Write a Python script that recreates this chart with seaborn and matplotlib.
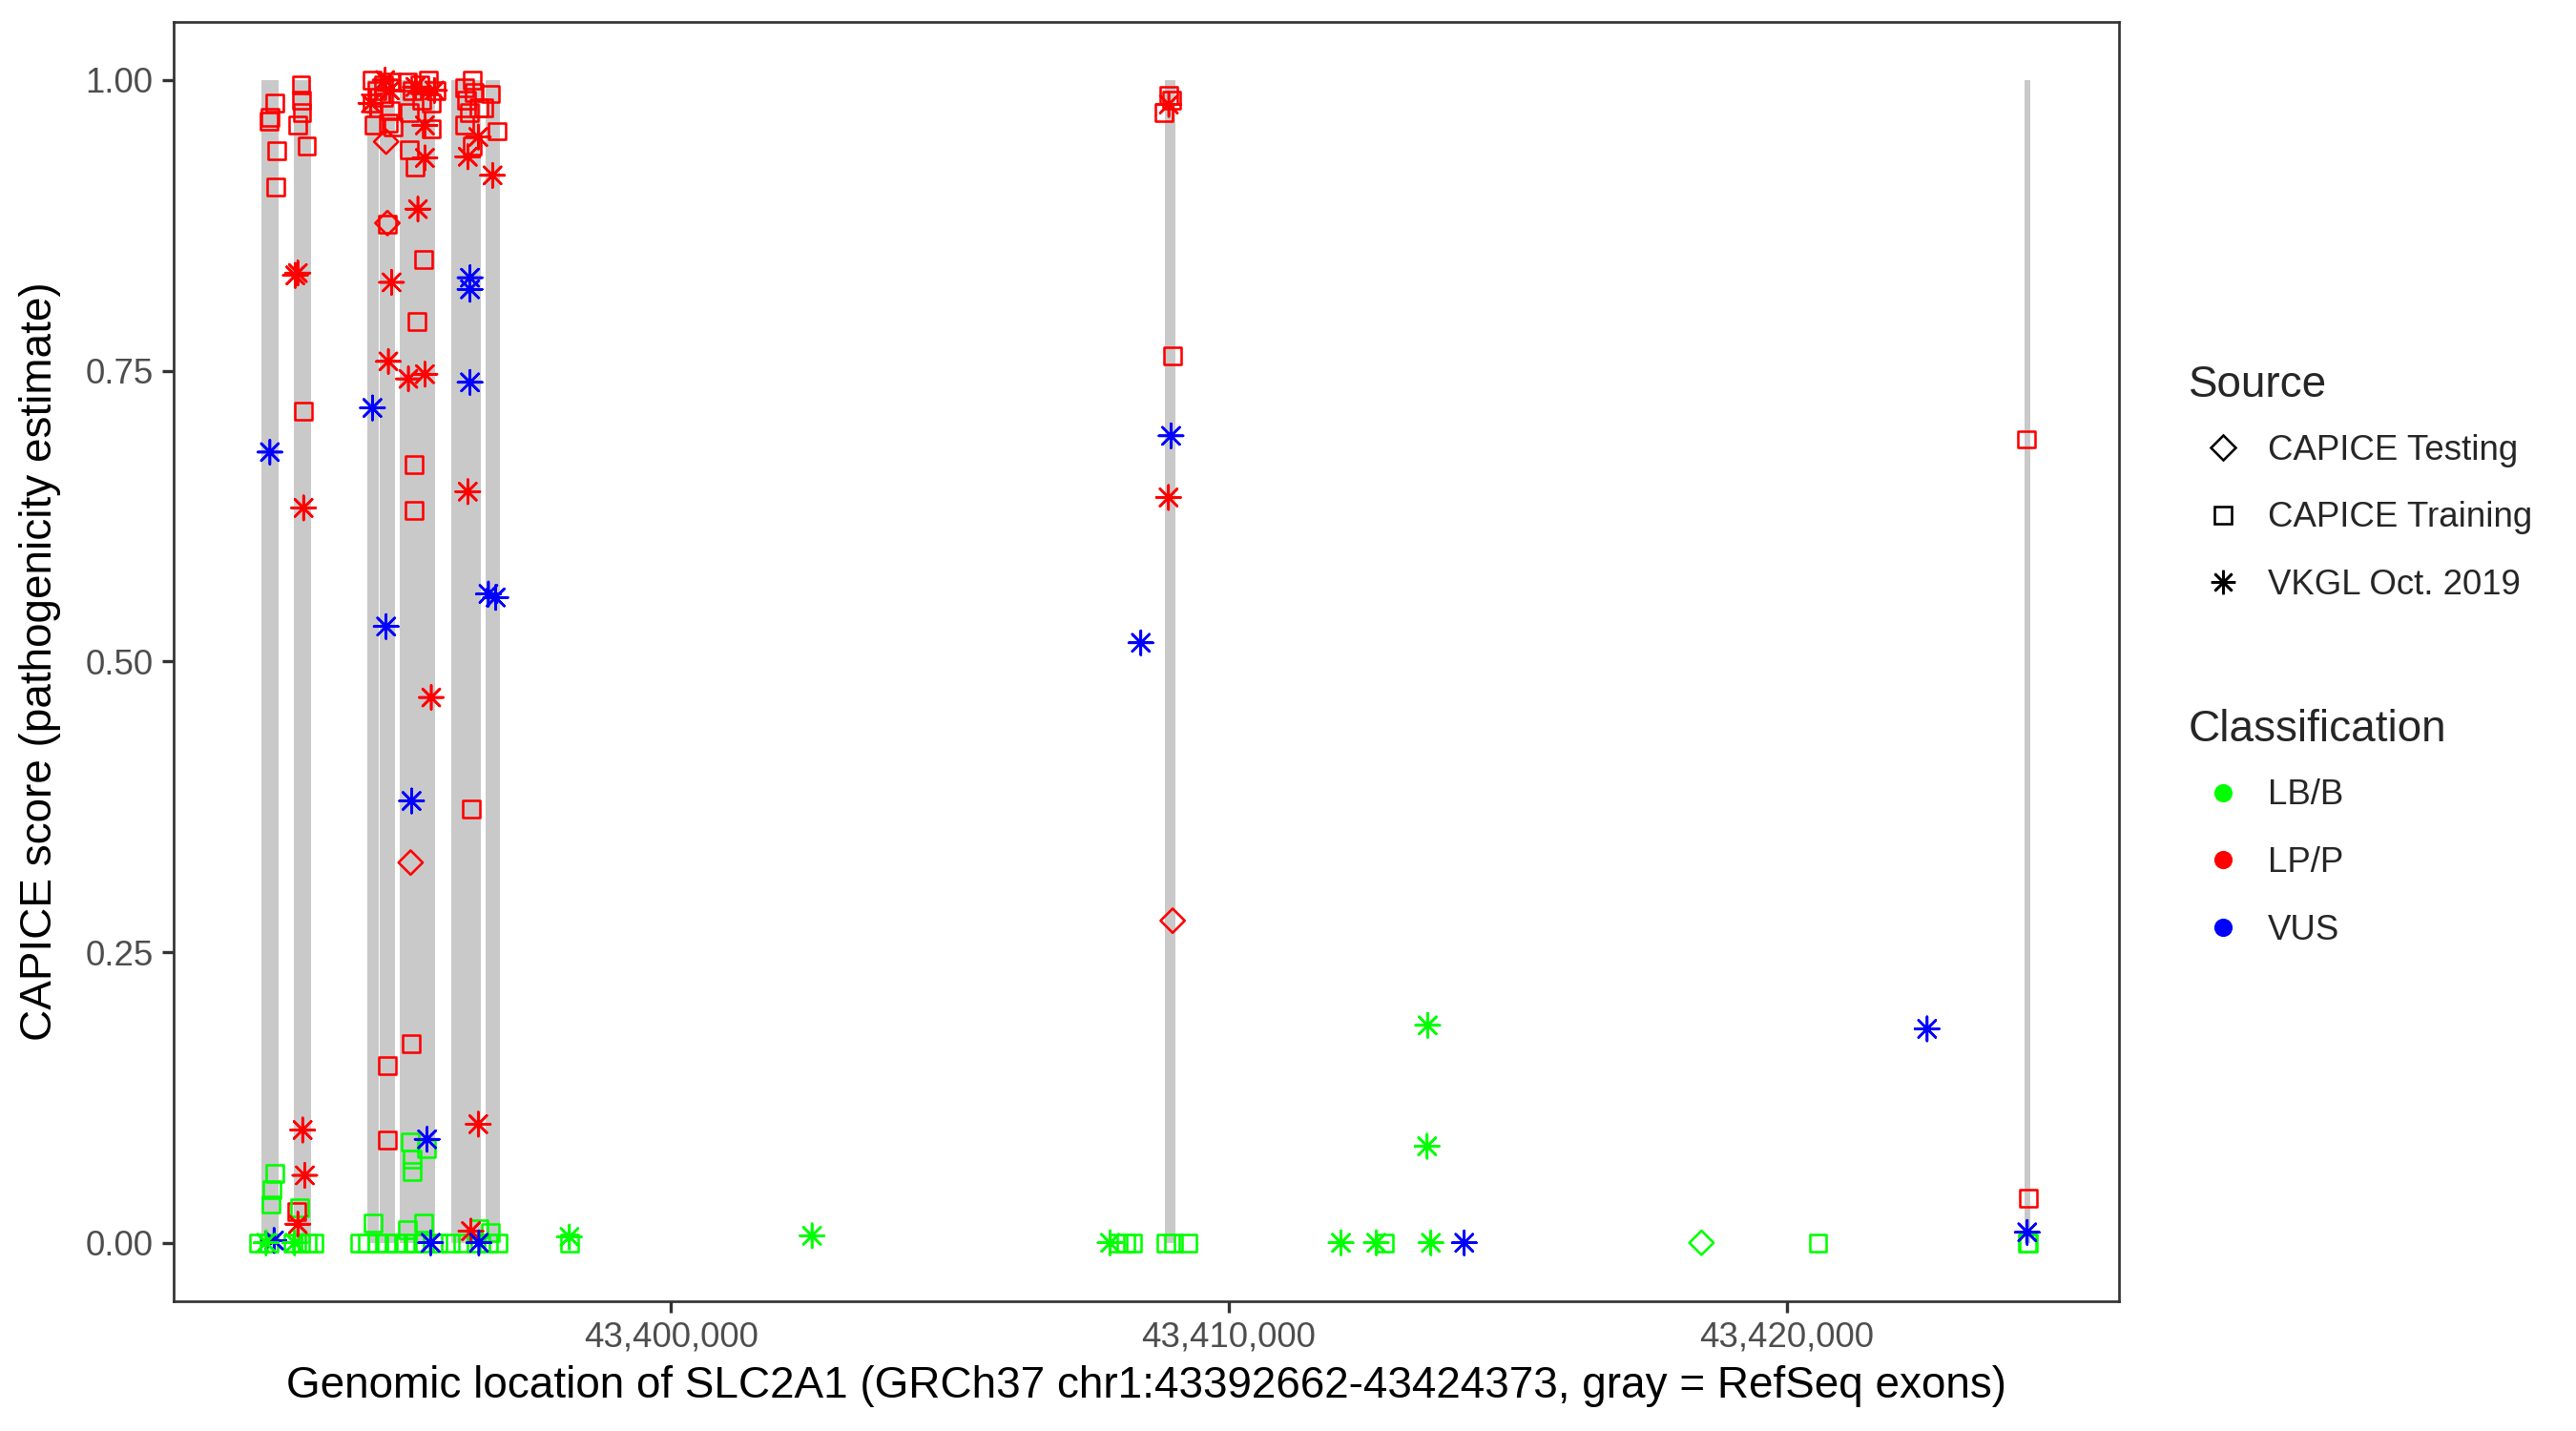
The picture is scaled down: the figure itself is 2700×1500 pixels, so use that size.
import matplotlib
matplotlib.use("Agg")
import matplotlib.pyplot as plt
from matplotlib.lines import Line2D
from matplotlib.ticker import FuncFormatter
import seaborn as sns
import pandas as pd

# RefSeq exons of SLC2A1 (GRCh37, chr1)
exon_start = [43392662, 43393239, 43394555, 43394777, 43395136, 43396058, 43396673, 43408859, 43424272]
exon_end = [43392966, 43393546, 43394760, 43395050, 43395768, 43396588, 43396930, 43409047, 43424373]
gene_start, gene_end = 43392662, 43424373

classes = ["LB/B", "LP/P", "VUS"]
class_colors = ["#00FF00", "#FF0000", "#0000FF"]
sources = ["CAPICE Testing", "CAPICE Training", "VKGL Oct. 2019"]

# CAPICE Testing
test_pos = [43394891, 43394914, 43395330, 43408992, 43418473]
test_score = [0.947, 0.877, 0.327, 0.277, 0.0]
test_cls = ["LP/P", "LP/P", "LP/P", "LP/P", "LB/B"]

# CAPICE Training
train_pos = [
    43392892, 43392813, 43392796, 43392921, 43392904, 43393365, 43393376, 43393382,
    43393308, 43393468, 43393411, 43393291, 43394646, 43394732, 43394846, 43394988,
    43394646, 43394846, 43394960, 43394675, 43394931, 43395017, 43394914, 43394920,
    43394920, 43395273, 43395358, 43395643, 43395529, 43395301, 43395700, 43395500,
    43395785, 43395700, 43395301, 43395415, 43395563, 43395444, 43395387, 43395398,
    43395347, 43396418, 43396440, 43396298, 43396326, 43396469, 43396383, 43396298,
    43396440, 43396554, 43396754, 43396885, 43396640, 43408923, 43408980, 43408838,
    43408997, 43424329, 43424299,
    # LB/B
    43392898, 43392841, 43392824, 43393337, 43395330, 43395358, 43395358, 43395615,
    43394663, 43395558, 43395273, 43396554, 43396754,
    43392596, 43392796, 43393223, 43393365, 43393479, 43393593, 43394418, 43394561,
    43394732, 43394903, 43395074, 43395245, 43395415, 43395586, 43395814, 43396042,
    43396270, 43396498, 43396725, 43396898, 43398177, 43408012, 43408155, 43408268,
    43408866, 43409009, 43409265, 43412796, 43420562, 43424320, 43424335,
]
train_score = [
    0.980, 0.968, 0.965, 0.939, 0.908, 0.996, 0.983, 0.972,
    0.961, 0.943, 0.715, 0.027, 1.000, 0.991, 0.996, 0.998,
    0.980, 0.985, 0.974, 0.961, 0.963, 0.960, 0.876, 0.152,
    0.088, 0.998, 0.991, 1.000, 0.983, 0.972, 0.980, 0.996,
    0.991, 0.958, 0.940, 0.925, 0.846, 0.792, 0.669, 0.630,
    0.171, 0.373, 1.000, 0.993, 0.983, 0.989, 0.972, 0.961,
    0.943, 0.976, 0.988, 0.956, 0.976, 0.987, 0.983, 0.972,
    0.763, 0.038, 0.691,
    0.060, 0.046, 0.033, 0.030, 0.087, 0.072, 0.061, 0.081,
    0.017, 0.017, 0.011, 0.012, 0.009,
    0.0, 0.0, 0.0, 0.0, 0.0, 0.0, 0.0, 0.0,
    0.0, 0.0, 0.0, 0.0, 0.0, 0.0, 0.0, 0.0,
    0.0, 0.0, 0.0, 0.0, 0.0, 0.0, 0.0, 0.0,
    0.0, 0.0, 0.0, 0.0, 0.0, 0.0, 0.0,
]
train_cls = ["LP/P"] * 59 + ["LB/B"] * 44

# VKGL Oct. 2019
vkgl_pos = [
    43393308, 43393263, 43393411, 43393394, 43393433, 43393308, 43394988, 43394931,
    43394874, 43394960, 43394618, 43395586, 43395586, 43395461, 43395290, 43395586,
    43395757, 43395415, 43395700, 43396543, 43396355, 43396355, 43396543, 43396412,
    43396799, 43408923, 43408918,
    # VUS
    43392807, 43394646, 43394891, 43396395, 43396395, 43396395, 43396725, 43396856,
    43395347, 43395626, 43392881, 43395689, 43396554, 43408963, 43408422, 43414220,
    43422518, 43424313,
    # LB/B
    43398177, 43402527, 43407870, 43412010, 43412642, 43413622, 43413565, 43413554,
    43392739, 43393251,
]
vkgl_score = [
    0.834, 0.832, 0.632, 0.097, 0.058, 0.016, 0.826, 0.758,
    1.000, 0.991, 0.980, 0.961, 0.933, 0.889, 0.743, 0.747,
    0.991, 0.994, 0.469, 0.951, 0.934, 0.646, 0.102, 0.010,
    0.918, 0.979, 0.641,
    0.680, 0.718, 0.530, 0.830, 0.820, 0.740, 0.558, 0.555,
    0.380, 0.089, 0.002, 0.0, 0.0, 0.694, 0.516, 0.0,
    0.184, 0.009,
    0.005, 0.006, 0.0, 0.0, 0.0, 0.0, 0.187, 0.083,
    0.0, 0.0,
]
vkgl_cls = ["LP/P"] * 27 + ["VUS"] * 18 + ["LB/B"] * 10

sns.set_theme(style="white")
plt.rcParams["font.family"] = ["Liberation Sans", "DejaVu Sans"]

fig, ax = plt.subplots(figsize=(9, 5), dpi=300)
fig.subplots_adjust(left=0.0673, right=0.8226, top=0.9847, bottom=0.0909)

# exons as gray bars behind the points
ax.bar(exon_start, 1.0, width=[e - s for s, e in zip(exon_start, exon_end)],
       align="edge", color="#C9C9C9", linewidth=0, zorder=1)

# one layer per source, open markers coloured by classification
palette = dict(zip(classes, class_colors))
layers = [
    (pd.DataFrame({"pos": train_pos, "score": train_score, "cls": train_cls}), "s", 18.5),
    (pd.DataFrame({"pos": test_pos, "score": test_score, "cls": test_cls}), "D", 18.5),
    (pd.DataFrame({"pos": vkgl_pos, "score": vkgl_score, "cls": vkgl_cls}), (8, 2, 0), 37),
]
for df, mk, sz in layers:
    sns.scatterplot(data=df, x="pos", y="score", hue="cls", hue_order=classes,
                    palette=palette, marker=mk, s=sz, legend=False, ax=ax, zorder=3)
    coll = ax.collections[-1]
    fc = coll.get_facecolors()
    coll.set_edgecolors(fc)
    coll.set_facecolors("none")
    coll.set_linewidths(0.62)

pad = 0.05 * (gene_end - gene_start)
ax.set_xlim(gene_start - pad, gene_end + pad)
ax.set_ylim(-0.05, 1.05)
ax.set_xticks([43400000, 43410000, 43420000])
ax.set_yticks([0, 0.25, 0.5, 0.75, 1.0])
ax.xaxis.set_major_formatter(FuncFormatter(lambda v, p: f"{v:,.0f}"))
ax.yaxis.set_major_formatter(FuncFormatter(lambda v, p: f"{v:.2f}"))
ax.tick_params(length=2.9, width=0.8, color="#333333", labelcolor="#4D4D4D",
               labelsize=8.8, pad=2.2, bottom=True, left=True)
for sp in ax.spines.values():
    sp.set_color("#333333")
    sp.set_linewidth(0.65)

ax.set_xlabel("Genomic location of SLC2A1 (GRCh37 chr1:43392662-43424373, gray = RefSeq exons)",
              fontsize=11, color="black", labelpad=2.75)
ax.set_ylabel("CAPICE score (pathogenicity estimate)", fontsize=11, color="black", labelpad=6)

src_markers = ["D", "s", (8, 2, 0)]
src_sizes = [4.3, 4.3, 6.1]
src_handles = [Line2D([], [], linestyle="none", marker=m, markersize=ms, markerfacecolor="none",
                      markeredgecolor="black", markeredgewidth=0.62)
               for m, ms in zip(src_markers, src_sizes)]
cls_handles = [Line2D([], [], linestyle="none", marker="o", markersize=4.6,
                      markerfacecolor=c, markeredgecolor=c, markeredgewidth=0)
               for c in class_colors]

leg_kw = dict(loc="upper left", frameon=False, fontsize=8.8, title_fontsize=11,
              alignment="left", handlelength=1.96, handletextpad=0.3,
              labelspacing=0.97, borderpad=0, borderaxespad=0)
leg1 = fig.legend(src_handles, sources, title="Source", bbox_to_anchor=(0.8496, 0.7455), **leg_kw)
leg2 = fig.legend(cls_handles, classes, title="Classification", bbox_to_anchor=(0.8496, 0.5045), **leg_kw)
for lg in (leg1, leg2):
    lg._legend_box.sep = 7.0  # gap between legend title and its items

fig.savefig("out.png", dpi=300)
